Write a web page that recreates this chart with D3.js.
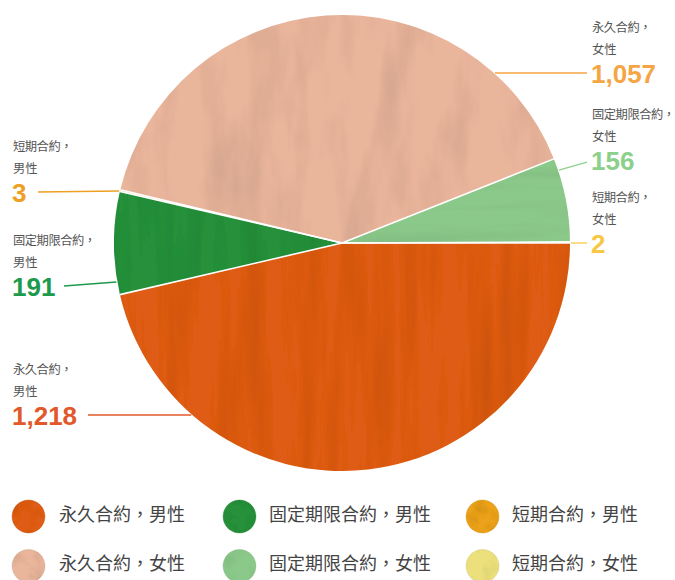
<!DOCTYPE html>
<html><head><meta charset="utf-8">
<script src="https://cdn.jsdelivr.net/npm/d3@7"></script>
<style>
html,body{margin:0;padding:0;background:#fff;}
svg{display:block;}
</style></head>
<body>
<svg id="chart" width="675" height="580"></svg>
<script>
// ---- data ----
const categories = ["永久合約，男性","固定期限合約，男性","短期合約，男性","永久合約，女性","固定期限合約，女性","短期合約，女性"];
const labelLine1 = ["永久合約，","固定期限合約，","短期合約，","永久合約，","固定期限合約，","短期合約，"];
const labelLine2 = ["男性","男性","男性","女性","女性","女性"];
const values = [1218, 191, 3, 1057, 156, 2];
const valueLabels = ["1,218","191","3","1,057","156","2"];

// ---- styles / layout ----
const sliceColors = ["#de5c16","#28903a","#eca21c","#e9b59b","#8bc98a","#ebe07c"];
const numColors   = ["#e2582a","#1d9a4c","#eea023","#f5a543","#8dd08b","#f7c844"];
const sliceFilter = ["wcv","wcv","wcv","wcv2","wch","wcv"];
const cx = 342, cy = 243, R = 228;
const labelPos = [
  {side:"L", x:13,  y:415, xl:88,  ye:415},
  {side:"L", x:13,  y:286, xl:64,  ye:282},
  {side:"L", x:13,  y:192, xl:38,  ye:191},
  {side:"R", x:592, y:73,  xl:587, ye:73},
  {side:"R", x:592, y:160, xl:587, ye:170, yl:162},
  {side:"R", x:592, y:243, xl:587, ye:243}
];
const legCols = [{c:28.5,t:59},{c:239.5,t:269},{c:482.5,t:512}];
const legRows = [{c:516.5,t:521},{c:566,t:570}];

const svg = d3.select("#chart");
const defs = svg.append("defs");
function wcFilter(id, freq, seed, strength, bias){
  const f = defs.append("filter").attr("id", id)
    .attr("x","-5%").attr("y","-5%").attr("width","110%").attr("height","110%");
  f.append("feTurbulence").attr("type","fractalNoise").attr("baseFrequency",freq)
    .attr("numOctaves",4).attr("seed",seed).attr("result","noise");
  f.append("feColorMatrix").attr("in","noise").attr("type","matrix")
    .attr("values",`0 0 0 0 0  0 0 0 0 0  0 0 0 0 0  ${strength} 0 0 0 ${-strength*bias}`).attr("result","shade");
  f.append("feComposite").attr("in","shade").attr("in2","SourceGraphic").attr("operator","in").attr("result","s2");
  const m = f.append("feMerge");
  m.append("feMergeNode").attr("in","SourceGraphic");
  m.append("feMergeNode").attr("in","s2");
}
wcFilter("wcv", "0.05 0.004", 7, 0.4, 0.45);
wcFilter("wcv2", "0.03 0.008", 11, 0.4, 0.44);
wcFilter("wch", "0.004 0.05", 5, 0.4, 0.45);
wcFilter("wcl", "0.06 0.06", 3, 0.4, 0.45);

const pie = d3.pie().sort(null).value(d=>d).startAngle(Math.PI/2).endAngle(Math.PI/2 + 2*Math.PI);
const arc = d3.arc().innerRadius(0).outerRadius(R);
const arcs = pie(values);

const g = svg.append("g").attr("transform",`translate(${cx},${cy})`);
g.selectAll("path.slice").data(arcs).enter().append("path")
  .attr("class","slice")
  .attr("d", arc)
  .attr("fill",(d,i)=>sliceColors[i])
  .attr("filter",(d,i)=>`url(#${sliceFilter[i]})`);
g.selectAll("path.sep").data(arcs).enter().append("path")
  .attr("class","sep")
  .attr("d", d=>{
    const a = d.startAngle;
    return `M0,0L${R*Math.sin(a)},${-R*Math.cos(a)}`;
  })
  .attr("stroke","#fff").attr("stroke-width",1.6).attr("fill","none");

// labels
const cjk = "'Noto Sans CJK TC','Noto Sans CJK SC',sans-serif";
const lab = svg.append("g");
arcs.forEach((d,i)=>{
  const p = labelPos[i];
  const dy = p.ye - cy;
  const dx = Math.sqrt(Math.max(0, R*R - dy*dy));
  const xEdge = p.side==="L" ? cx - dx - 1 : cx + dx + 1;
  lab.append("line")
    .attr("x1",p.xl).attr("y1",p.yl!==undefined ? p.yl : (p.side==="L" ? p.y : p.ye))
    .attr("x2",xEdge).attr("y2",p.ye)
    .attr("stroke",numColors[i]).attr("stroke-width",1.3);
  lab.append("text").attr("x",p.x).attr("y",p.y-41)
    .attr("font-family",cjk).attr("font-size",12.3).attr("letter-spacing",-0.5)
    .attr("fill","#555").text(labelLine1[i]);
  lab.append("text").attr("x",p.x).attr("y",p.y-19)
    .attr("font-family",cjk).attr("font-size",12.3)
    .attr("fill","#555").text(labelLine2[i]);
  lab.append("text").attr("x",p.x-1).attr("y",p.y+10)
    .attr("font-family","'Liberation Sans',Arial,sans-serif").attr("font-weight","bold").attr("font-size",26)
    .attr("fill",numColors[i]).text(valueLabels[i]);
});

// legend
const leg = svg.append("g");
categories.forEach((c,i)=>{
  const col = legCols[i % 3], row = legRows[Math.floor(i/3)];
  leg.append("circle").attr("cx",col.c).attr("cy",row.c).attr("r",16.5)
    .attr("fill",sliceColors[i]).attr("filter","url(#wcl)")
    .attr("stroke",d3.color(sliceColors[i]).darker(0.5)).attr("stroke-opacity",0.3).attr("stroke-width",1);
  leg.append("text").attr("x",col.t).attr("y",row.t)
    .attr("font-family",cjk).attr("font-size",18)
    .attr("fill","#444").text(c);
});
</script>
</body></html>
